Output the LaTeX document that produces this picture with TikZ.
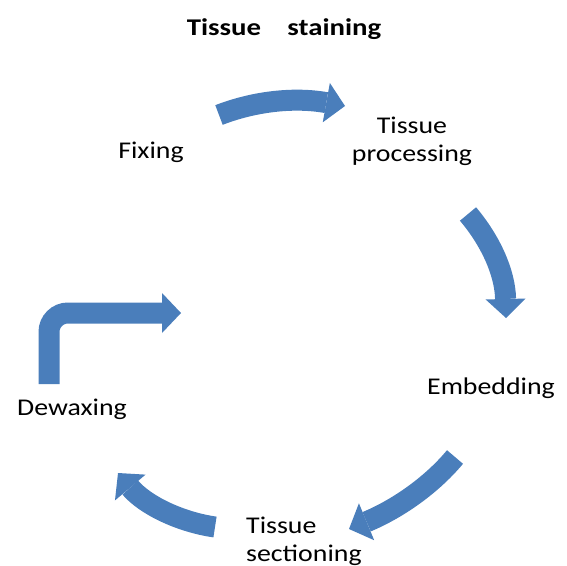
\documentclass[tikz,border=0pt]{standalone}
\usepackage{fontspec}
\newfontfamily\labelfont{Carlito}[FakeStretch=1.16]
\newfontfamily\titlefont{Carlito}[FakeStretch=1.2]
\usepackage{xcolor}
\usepackage{tikz}
\usetikzlibrary{arrows.meta}

\definecolor{arrowblue}{RGB}{74,126,187}
\tikzset{
  flow/.style={draw=arrowblue,line width=21pt,
    -{Triangle[width=40pt,length=19pt,line width=0pt]}},
  lbl/.style={inner sep=0pt,font=\labelfont\fontsize{24}{28}\selectfont}
}

\begin{document}
\begin{tikzpicture}[x=1pt,y=-1pt,>=Latex]
  \useasboundingbox (0,0) rectangle (567,565);
  \node[lbl,anchor=base,font=\titlefont\bfseries\fontsize{24}{28}\selectfont] (title) at (284,35) {Tissue\hspace{1.1em}staining};

  % stages of the cycle
  \node[lbl,anchor=base] (fix) at (151,158) {Fixing};
  \node[lbl,anchor=north,align=center] (proc) at (412,117) {Tissue\\processing};
  \node[lbl,anchor=base] (emb) at (491,394) {Embedding};
  \node[lbl,anchor=north west,align=left] (sect) at (246,517) {Tissue\\sectioning};
  \node[lbl,anchor=base] (dew) at (72,415) {Dewaxing};

  % arrow ends
  \coordinate (fixout) at (219,115);
  \coordinate (procin) at (345,106);
  \coordinate (procout) at (468,214);
  \coordinate (embin) at (506,318);
  \coordinate (embout) at (455,457);
  \coordinate (sectin) at (349,529);
  \coordinate (sectout) at (215,527);
  \coordinate (dewin) at (118,473);
  \coordinate (dewout) at (49,384);
  \coordinate (fixin) at (181,313);

  \draw[flow] (fixout) .. controls (255,101) and (295,97) .. (procin);
  \draw[flow] (procout) .. controls (490,240) and (505,272) .. (embin);
  \draw[flow] (embout) .. controls (430,487) and (395,510) .. (sectin);
  \draw[flow] (sectout) .. controls (180,522) and (145,505) .. (dewin);
  \draw[flow,rounded corners=19pt] (dewout) |- (fixin);
\end{tikzpicture}
\end{document}
